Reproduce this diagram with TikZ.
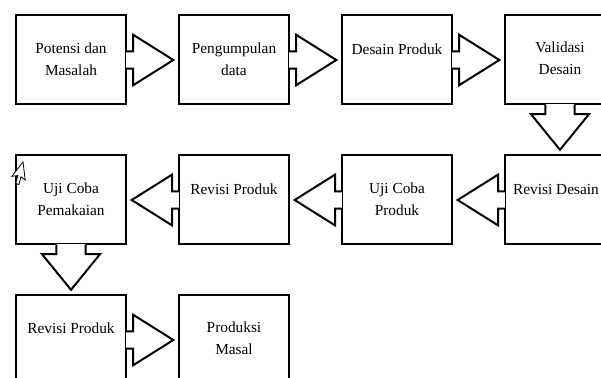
\documentclass[tikz,border=0pt]{standalone}
\usepackage{fontspec}
\setmainfont{Liberation Serif}
\usetikzlibrary{positioning, calc}

% arrow from a box side to the next box: from, to, shaft half width, head half width, shaft length
\newcommand{\flowarrow}[5]{%
  \coordinate (fa-s) at (#1);
  \coordinate (fa-t) at ($(#2)!3.5pt!(#1)$);
  \coordinate (fa-b) at ($(fa-s)!-0.8pt!(fa-t)$);
  \coordinate (fa-f) at ($(fa-s)!0.8pt!(fa-t)$);
  \coordinate (fa-n) at ($(fa-s)!#5!(fa-t)$);
  \fill[white] ($(fa-b)!#3!90:(fa-t)$) -- ($(fa-f)!#3!90:(fa-t)$) -- ($(fa-f)!#3!-90:(fa-t)$) -- ($(fa-b)!#3!-90:(fa-t)$) -- cycle;
  \draw[arrline] ($(fa-b)!#3!90:(fa-t)$) -- ($(fa-n)!#3!90:(fa-t)$) -- ($(fa-n)!#4!90:(fa-t)$) -- (fa-t)
    -- ($(fa-n)!#4!-90:(fa-t)$) -- ($(fa-n)!#3!-90:(fa-t)$) -- ($(fa-b)!#3!-90:(fa-t)$);
}

\begin{document}
\begin{tikzpicture}[
    node distance=36.75pt and 38.25pt,
    box/.style={draw, line width=1.5pt, minimum width=82.5pt, minimum height=66.75pt, inner sep=0pt},
    txt/.style={align=center, inner sep=0pt, font=\fontsize{11.5}{16.5}\selectfont},
    arrline/.style={line width=1.5pt, line join=miter}]
    \useasboundingbox (0,0) rectangle (450.75pt,-283.5pt);
    % boxes
    \node[box] (potensi) at (53.25pt,-45pt) {};
    \node[box, right=of potensi]  (data)     {};
    \node[box, right=of data]     (desain)   {};
    \node[box, right=of desain]   (validasi) {};
    \node[box, below=of validasi] (revdes)   {};
    \node[box, left=of revdes]    (ujiprod)  {};
    \node[box, left=of ujiprod]   (revprod)  {};
    \node[box, left=of revprod]   (ujipakai) {};
    \node[box, below=of ujipakai] (revprod2) {};
    \node[box, right=of revprod2] (masal)    {};
    % arrows
    \flowarrow{potensi.east}{data.west}{6.4pt}{19pt}{4.5pt}
    \flowarrow{data.east}{desain.west}{6.4pt}{19pt}{4.5pt}
    \flowarrow{desain.east}{validasi.west}{6.4pt}{19pt}{4.5pt}
    \flowarrow{validasi.south}{revdes.north}{11pt}{21.75pt}{6.5pt}
    \flowarrow{revdes.west}{ujiprod.east}{6.4pt}{19pt}{4.5pt}
    \flowarrow{ujiprod.west}{revprod.east}{6.4pt}{19pt}{4.5pt}
    \flowarrow{revprod.west}{ujipakai.east}{6.4pt}{19pt}{4.5pt}
    \flowarrow{ujipakai.south}{revprod2.north}{11pt}{21.75pt}{6.5pt}
    \flowarrow{revprod2.east}{masal.west}{6.4pt}{19pt}{4.5pt}
    % texts
    \node[txt, below=21pt of potensi.north]  (potensi-t)  {Potensi dan\\Masalah};
    \node[txt, below=21pt of data.north]     (data-t)     {Pengumpulan\\data};
    \node[txt, below=22pt of desain.north]   (desain-t)   {Desain Produk};
    \node[txt, below=20pt of validasi.north] (validasi-t) {Validasi\\Desain};
    \node[txt, below=22pt of revdes.north, xshift=-3pt] (revdes-t) {Revisi Desain};
    \node[txt, below=21pt of ujiprod.north]  (ujiprod-t)  {Uji Coba\\Produk};
    \node[txt, below=22pt of revprod.north]  (revprod-t)  {Revisi Produk};
    \node[txt, below=21pt of ujipakai.north] (ujipakai-t) {Uji Coba\\Pemakaian};
    \node[txt, below=21pt of revprod2.north] (revprod2-t) {Revisi Produk};
    \node[txt, below=20pt of masal.north]    (masal-t)    {Produksi\\Masal};
    % mouse pointer
    \begin{scope}[shift={(17.25pt,-121.5pt)}, rotate=-38, x=0.8pt, y=0.8pt]
      \filldraw[fill=white, line width=0.6pt, line join=miter]
        (0,0) -- (0,-17) -- (4,-13) -- (7,-20) -- (10,-19) -- (7,-12) -- (12,-12) -- cycle;
    \end{scope}
\end{tikzpicture}
\end{document}
